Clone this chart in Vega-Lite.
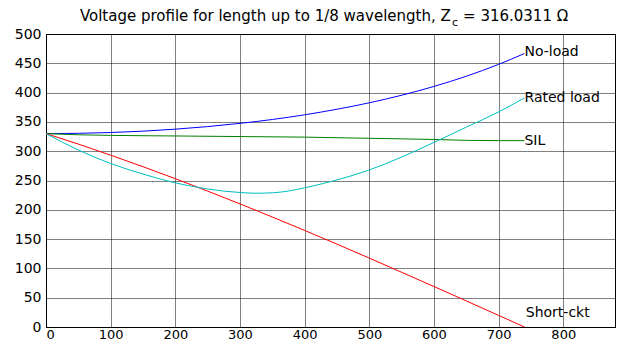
{
  "$schema": "https://vega.github.io/schema/vega-lite/v6.json",
  "width": 569,
  "height": 293,
  "autosize": "none",
  "padding": {"left": 46, "top": 34, "right": 4, "bottom": 15},
  "background": "white",
  "config": {
    "view": {"stroke": "black", "strokeWidth": 1},
    "font": "DejaVu Sans",
    "axis": {
      "labelFont": "DejaVu Sans",
      "labelColor": "black",
      "labelOverlap": false,
      "domainColor": "black",
      "domainWidth": 1,
      "ticks": false,
      "grid": true,
      "gridColor": "black",
      "gridDash": [1, 1],
      "gridOpacity": 1,
      "gridWidth": 1,
      "title": null
    }
  },
  "datasets": {
    "curves": [
      {"series": "No-load", "x": 0, "v": 330}, {"series": "No-load", "x": 50, "v": 330.5}, {"series": "No-load", "x": 100, "v": 331.9}, {"series": "No-load", "x": 150, "v": 334.2}, {"series": "No-load", "x": 200, "v": 337.6}, {"series": "No-load", "x": 250, "v": 342.0}, {"series": "No-load", "x": 300, "v": 347.5}, {"series": "No-load", "x": 350, "v": 354.1}, {"series": "No-load", "x": 400, "v": 362.1}, {"series": "No-load", "x": 450, "v": 371.6}, {"series": "No-load", "x": 500, "v": 382.6}, {"series": "No-load", "x": 550, "v": 395.5}, {"series": "No-load", "x": 600, "v": 410.5}, {"series": "No-load", "x": 650, "v": 427.9}, {"series": "No-load", "x": 700, "v": 448.2}, {"series": "No-load", "x": 740, "v": 466.7},
      {"series": "SIL", "x": 0, "v": 330}, {"series": "SIL", "x": 50, "v": 328}, {"series": "SIL", "x": 100, "v": 327}, {"series": "SIL", "x": 200, "v": 326}, {"series": "SIL", "x": 300, "v": 325}, {"series": "SIL", "x": 400, "v": 324}, {"series": "SIL", "x": 500, "v": 322}, {"series": "SIL", "x": 600, "v": 320}, {"series": "SIL", "x": 650, "v": 318.5}, {"series": "SIL", "x": 700, "v": 318}, {"series": "SIL", "x": 740, "v": 318},
      {"series": "Short-ckt", "x": 0, "v": 330}, {"series": "Short-ckt", "x": 50, "v": 312.1}, {"series": "Short-ckt", "x": 100, "v": 293.2}, {"series": "Short-ckt", "x": 150, "v": 273.5}, {"series": "Short-ckt", "x": 200, "v": 253.1}, {"series": "Short-ckt", "x": 250, "v": 231.9}, {"series": "Short-ckt", "x": 300, "v": 210.1}, {"series": "Short-ckt", "x": 350, "v": 187.7}, {"series": "Short-ckt", "x": 400, "v": 164.8}, {"series": "Short-ckt", "x": 450, "v": 141.4}, {"series": "Short-ckt", "x": 500, "v": 117.6}, {"series": "Short-ckt", "x": 550, "v": 93.4}, {"series": "Short-ckt", "x": 600, "v": 69.1}, {"series": "Short-ckt", "x": 650, "v": 44.5}, {"series": "Short-ckt", "x": 700, "v": 19.8}, {"series": "Short-ckt", "x": 740, "v": 0},
      {"series": "Rated load", "x": 0, "v": 330}, {"series": "Rated load", "x": 50, "v": 302}, {"series": "Rated load", "x": 100, "v": 279}, {"series": "Rated load", "x": 150, "v": 261}, {"series": "Rated load", "x": 200, "v": 246}, {"series": "Rated load", "x": 250, "v": 235.5}, {"series": "Rated load", "x": 300, "v": 229.5}, {"series": "Rated load", "x": 325, "v": 228.3}, {"series": "Rated load", "x": 350, "v": 229}, {"series": "Rated load", "x": 375, "v": 232}, {"series": "Rated load", "x": 400, "v": 237.5}, {"series": "Rated load", "x": 450, "v": 251}, {"series": "Rated load", "x": 500, "v": 268}, {"series": "Rated load", "x": 550, "v": 290}, {"series": "Rated load", "x": 600, "v": 315}, {"series": "Rated load", "x": 650, "v": 341}, {"series": "Rated load", "x": 700, "v": 367}, {"series": "Rated load", "x": 740, "v": 391}
    ],
    "labels": [
      {"label": "No-load", "x": 740, "v": 469},
      {"label": "Rated load", "x": 740, "v": 391},
      {"label": "SIL", "x": 740, "v": 318},
      {"label": "Short-ckt", "x": 742, "v": 24}
    ]
  },
  "layer": [
    {
      "data": {"name": "curves"},
      "mark": {"type": "line", "strokeWidth": 1, "interpolate": "monotone"},
      "encoding": {
        "x": {"field": "x", "type": "quantitative", "scale": {"domain": [0, 880], "nice": false, "zero": false},
              "axis": {"values": [0, 100, 200, 300, 400, 500, 600, 700, 800], "labelPadding": 1, "labelFontSize": 13}},
        "y": {"field": "v", "type": "quantitative", "scale": {"domain": [0, 500], "nice": false},
              "axis": {"values": [0, 50, 100, 150, 200, 250, 300, 350, 400, 450, 500], "labelPadding": 5, "labelFontSize": 14}},
        "color": {"field": "series", "type": "nominal",
                  "scale": {"domain": ["No-load", "SIL", "Short-ckt", "Rated load"], "range": ["#0000ff", "#008000", "#ff0000", "#00bfbf"]},
                  "legend": null},
        "detail": {"field": "series"}
      }
    },
    {
      "data": {"name": "labels"},
      "mark": {"type": "text", "align": "left", "baseline": "middle", "fontSize": 14, "font": "DejaVu Sans", "color": "black"},
      "encoding": {
        "x": {"field": "x", "type": "quantitative",
              "axis": {"values": [0, 100, 200, 300, 400, 500, 600, 700, 800], "labelPadding": 1, "labelFontSize": 13}},
        "y": {"field": "v", "type": "quantitative",
              "axis": {"values": [0, 50, 100, 150, 200, 250, 300, 350, 400, 450, 500], "labelPadding": 5, "labelFontSize": 14}},
        "text": {"field": "label"}
      }
    },
    {
      "data": {"values": [{}]},
      "mark": {"type": "text", "align": "right", "baseline": "middle", "fontSize": 15, "font": "DejaVu Sans", "color": "black"},
      "encoding": {
        "x": {"datum": 626, "axis": {"values": [0, 100, 200, 300, 400, 500, 600, 700, 800], "labelPadding": 1, "labelFontSize": 13}},
        "y": {"datum": 531, "axis": {"values": [0, 50, 100, 150, 200, 250, 300, 350, 400, 450, 500], "labelPadding": 5, "labelFontSize": 14}},
        "text": {"value": "Voltage profile for length up to 1/8 wavelength, Z"}
      }
    },
    {
      "data": {"values": [{}]},
      "mark": {"type": "text", "align": "left", "baseline": "middle", "fontSize": 11, "font": "DejaVu Sans", "color": "black"},
      "encoding": {
        "x": {"datum": 628, "axis": {"values": [0, 100, 200, 300, 400, 500, 600, 700, 800], "labelPadding": 1, "labelFontSize": 13}},
        "y": {"datum": 518, "axis": {"values": [0, 50, 100, 150, 200, 250, 300, 350, 400, 450, 500], "labelPadding": 5, "labelFontSize": 14}},
        "text": {"value": "c"}
      }
    },
    {
      "data": {"values": [{}]},
      "mark": {"type": "text", "align": "left", "baseline": "middle", "fontSize": 15, "font": "DejaVu Sans", "color": "black"},
      "encoding": {
        "x": {"datum": 645, "axis": {"values": [0, 100, 200, 300, 400, 500, 600, 700, 800], "labelPadding": 1, "labelFontSize": 13}},
        "y": {"datum": 531, "axis": {"values": [0, 50, 100, 150, 200, 250, 300, 350, 400, 450, 500], "labelPadding": 5, "labelFontSize": 14}},
        "text": {"value": "= 316.0311 Ω"}
      }
    }
  ]
}
